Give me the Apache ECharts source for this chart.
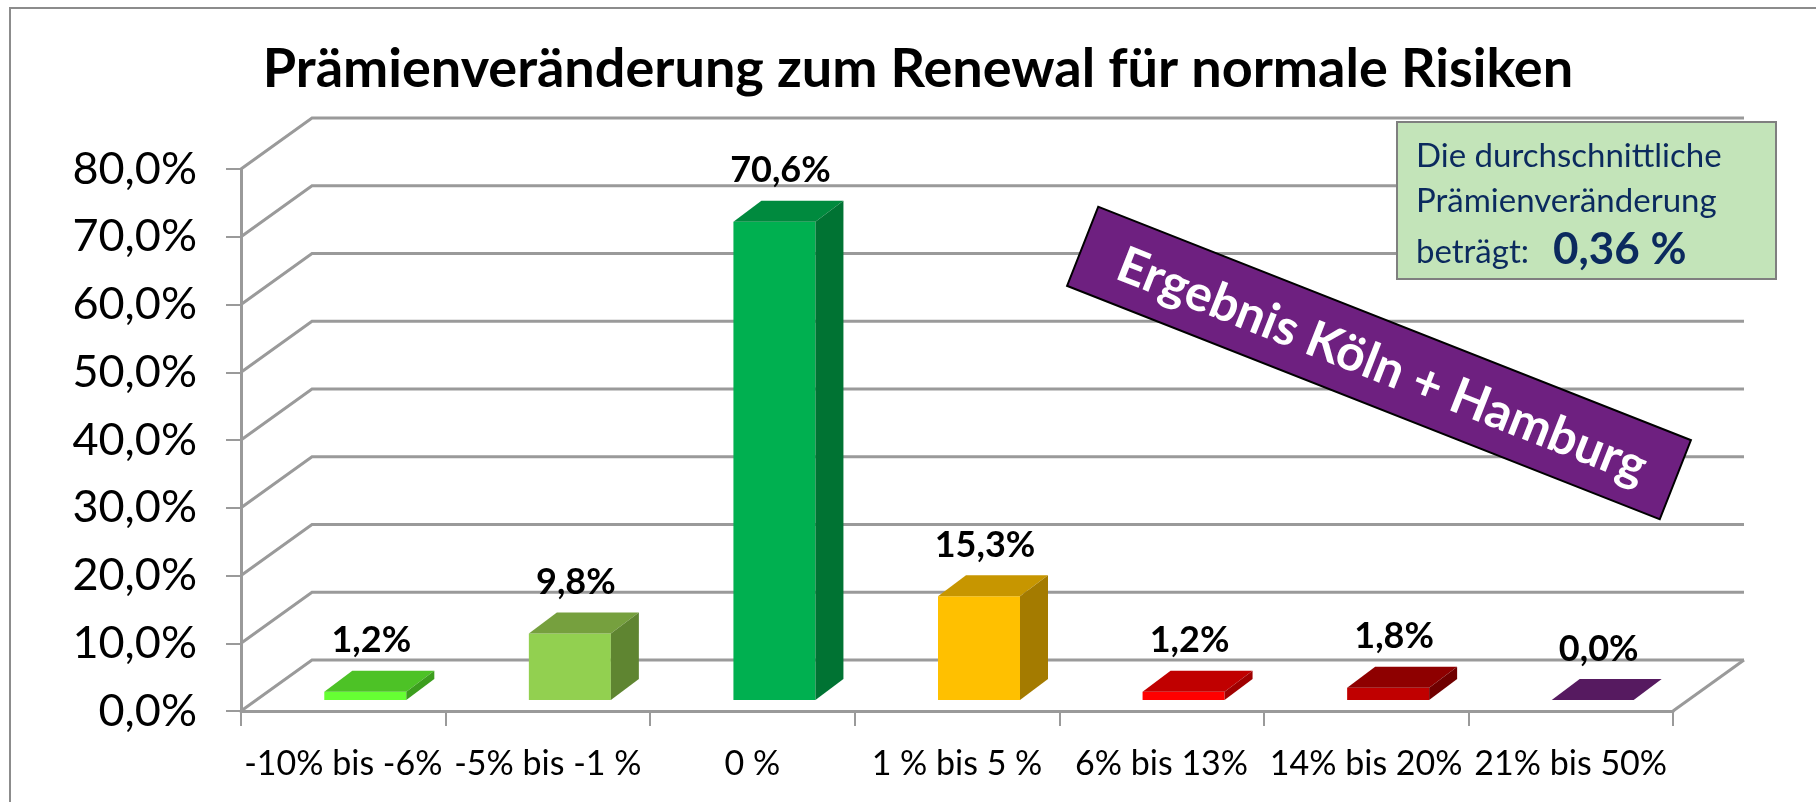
<!DOCTYPE html>
<html>
<head>
<meta charset="utf-8">
<script src="https://cdn.jsdelivr.net/npm/echarts@6/dist/echarts.min.js"></script>
<style>
html, body { margin: 0; padding: 0; background: #fff; }
#chart { width: 1816px; height: 802px; }
</style>
</head>
<body>
<div id="chart"></div>
<script>
// Kategorien und Werte (in %)
var categories = ['-10% bis -6%', '-5% bis -1 %', '0 %', '1 % bis 5 %', '6% bis 13%', '14% bis 20%', '21% bis 50%'];
var values = [1.2, 9.8, 70.6, 15.3, 1.2, 1.8, 0.0];
var yTicks = [0, 10, 20, 30, 40, 50, 60, 70, 80];

// Farben je Balken: Vorderseite, Deckel, Seite
var frontColors = ['#66FF33', '#92D050', '#00B050', '#FFC000', '#FF0000', '#C00000', '#5C1A66'];
var topColors = ['#4DC226', '#76A03E', '#008A3E', '#C79600', '#C00000', '#8E0000', '#561A60'];
var sideColors = ['#3C9E1E', '#5F8531', '#007333', '#A47B00', '#A00000', '#700000', '#48154F'];

var WALL_DX = 71, WALL_DY = -51;   // Versatz der Rückwand
var BAR_SX = 22, BAR_SY = -11;     // Balken sitzen etwas in der Tiefe
var BAR_DX = 28, BAR_DY = -21;     // Tiefe der Balken
var BAR_HALF = 41;
var GRID_COLOR = '#9A9A9A';
var FONT = 'Lato';
var BOX_TEXT = '#0B2A5E';

function fmt(v) {
    return v.toFixed(1).replace('.', ',') + '%';
}

// Rückwand + Seitenwand-Linien
function renderWall(params, api) {
    var v = api.value(1);
    var first = api.coord([0, v]);
    var last = api.coord([categories.length - 1, v]);
    var half = api.size([1, 0])[0] / 2;
    var x0 = first[0] - half, x1 = last[0] + half, y = first[1];
    var children = [{
        type: 'polyline',
        shape: { points: [[x0, y], [x0 + WALL_DX, y + WALL_DY], [x1 + WALL_DX, y + WALL_DY]] },
        style: { stroke: GRID_COLOR, lineWidth: 3, fill: null }
    }];
    if (v === 0) {
        children.push({
            type: 'line',
            shape: { x1: x1, y1: y, x2: x1 + WALL_DX, y2: y + WALL_DY },
            style: { stroke: GRID_COLOR, lineWidth: 3 }
        });
    }
    return { type: 'group', children: children };
}

// 3D-Balken: Vorderseite, Deckel, Seite + Beschriftung
function renderBar(params, api) {
    var i = params.dataIndex;
    var v = api.value(1);
    var top = api.coord([i, v]);
    var base = api.coord([i, 0]);
    var cx = top[0] + BAR_SX;
    var L = cx - BAR_HALF, R = cx + BAR_HALF;
    var T = top[1] + BAR_SY, B = base[1] + BAR_SY;
    return {
        type: 'group',
        children: [{
            type: 'rect',
            shape: { x: L, y: T, width: R - L, height: B - T },
            style: { fill: frontColors[i] }
        }, {
            type: 'polygon',
            shape: { points: [[L, T], [R, T], [R + BAR_DX, T + BAR_DY], [L + BAR_DX, T + BAR_DY]] },
            style: { fill: topColors[i] }
        }, {
            type: 'polygon',
            shape: { points: [[R, T], [R + BAR_DX, T + BAR_DY], [R + BAR_DX, B + BAR_DY], [R, B]] },
            style: { fill: sideColors[i] }
        }, {
            type: 'text',
            style: {
                text: fmt(v),
                x: cx + 6,
                y: T + BAR_DY - 12,
                align: 'center',
                verticalAlign: 'bottom',
                fontFamily: FONT,
                fontWeight: 'bold',
                fontSize: 36,
                fill: '#000'
            }
        }]
    };
}

var myChart = echarts.init(document.getElementById('chart'));
var option = {
    animation: false,
    textStyle: { fontFamily: FONT },
    grid: { left: 241, right: 143, top: 169, bottom: 91 },
    xAxis: {
        type: 'category',
        data: categories,
        axisLine: { lineStyle: { color: GRID_COLOR, width: 3 } },
        axisTick: { show: true, length: 15, interval: 0, lineStyle: { color: GRID_COLOR, width: 2 } },
        axisLabel: { color: '#000', fontSize: 34, margin: 36, interval: 0 }
    },
    yAxis: {
        type: 'value',
        min: 0,
        max: 80,
        interval: 10,
        axisLine: { show: true, lineStyle: { color: GRID_COLOR, width: 3 } },
        axisTick: { show: true, length: 15, lineStyle: { color: GRID_COLOR, width: 2 } },
        axisLabel: { color: '#000', fontSize: 45, margin: 44, formatter: fmt },
        splitLine: { show: false }
    },
    series: [{
        type: 'custom',
        name: 'wall',
        z: 1,
        silent: true,
        renderItem: renderWall,
        data: yTicks.map(function (v) { return [categories[0], v]; })
    }, {
        type: 'custom',
        name: 'Prämienveränderung',
        z: 5,
        renderItem: renderBar,
        data: values.map(function (v, i) { return [categories[i], v]; })
    }],
    graphic: [{
        type: 'rect',
        z: 0,
        shape: { x: 10, y: 8, width: 1900, height: 900 },
        style: { fill: null, stroke: '#8C8C8C', lineWidth: 2 }
    }, {
        type: 'text',
        z: 100,
        style: {
            text: 'Prämienveränderung zum Renewal für normale Risiken',
            x: 918, y: 70,
            align: 'center', verticalAlign: 'middle',
            fontFamily: FONT, fontWeight: 'bold', fontSize: 54, fill: '#000'
        }
    }, {
        type: 'rect',
        z: 100,
        shape: { x: 1397, y: 122, width: 379, height: 157 },
        style: { fill: '#C3E4B9', stroke: '#7F7F7F', lineWidth: 2 }
    }, {
        type: 'text',
        z: 101,
        style: { text: 'Die durchschnittliche', x: 1416, y: 156, verticalAlign: 'middle', fontFamily: FONT, fontSize: 33, fill: BOX_TEXT }
    }, {
        type: 'text',
        z: 101,
        style: { text: 'Prämienveränderung', x: 1416, y: 201, verticalAlign: 'middle', fontFamily: FONT, fontSize: 33, fill: BOX_TEXT }
    }, {
        type: 'text',
        z: 101,
        style: { text: 'beträgt:', x: 1416, y: 252, verticalAlign: 'middle', fontFamily: FONT, fontSize: 33, fill: BOX_TEXT }
    }, {
        type: 'text',
        z: 101,
        style: { text: '0,36 %', x: 1553, y: 250, verticalAlign: 'middle', fontFamily: FONT, fontWeight: 'bold', fontSize: 44, fill: BOX_TEXT }
    }, {
        type: 'group',
        x: 1379,
        y: 363,
        rotation: -21.5 * Math.PI / 180,
        children: [{
            type: 'rect',
            z: 110,
            shape: { x: -318.5, y: -42.5, width: 637, height: 85 },
            style: { fill: '#6E2080', stroke: '#000', lineWidth: 2 }
        }, {
            type: 'text',
            z: 111,
            style: {
                text: 'Ergebnis Köln + Hamburg',
                x: 4, y: 2,
                align: 'center', verticalAlign: 'middle',
                fontFamily: FONT, fontWeight: 'bold', fontSize: 50, fill: '#fff'
            }
        }]
    }]
};
myChart.setOption(option);
</script>
</body>
</html>
